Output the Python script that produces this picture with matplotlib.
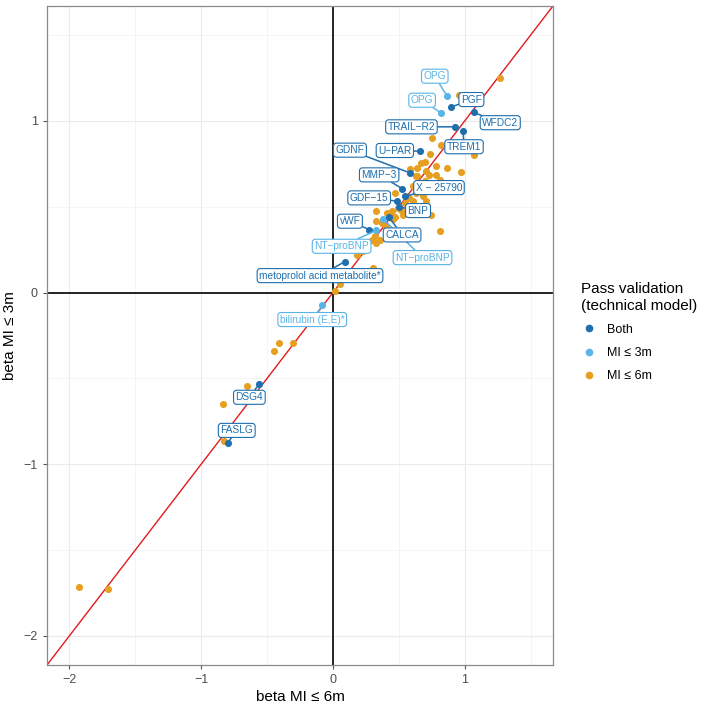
import matplotlib
matplotlib.use("Agg")
import matplotlib.pyplot as plt
from matplotlib.lines import Line2D
from matplotlib.ticker import MultipleLocator

plt.rcParams["font.family"] = ["Liberation Sans", "DejaVu Sans"]

# colours per validation group
COL_BOTH = "#1F6FAE"
COL_3M = "#5AB4E5"
COL_6M = "#E69F20"

# points passing validation at both horizons (beta 6m, beta 3m)
both_names = ["PGF", "WFDC2", "TRAIL\u2212R2", "TREM1", "U\u2212PAR", "GDNF", "MMP\u22123",
              "X \u2212 25790", "GDF\u221215", "BNP", "CALCA", "vWF",
              "metoprolol acid metabolite*", "DSG4", "FASLG"]
both_x = [0.894, 1.068, 0.927, 0.988, 0.659, 0.583, 0.528, 0.550, 0.488, 0.500, 0.424, 0.276,
          0.089, -0.558, -0.800]
both_y = [1.080, 1.050, 0.966, 0.940, 0.824, 0.698, 0.605, 0.562, 0.533, 0.500, 0.441, 0.367,
          0.180, -0.531, -0.877]

# points passing only at 3 months
m3_names = ["OPG", "OPG", "NT\u2212proBNP", "NT\u2212proBNP", "bilirubin (E,E)*"]
m3_x = [0.866, 0.818, 0.380, 0.330, -0.080]
m3_y = [1.145, 1.048, 0.430, 0.363, -0.075]

# points passing only at 6 months (unlabelled)
m6_x = [1.27, 0.955, 0.755, 0.856, 1.068, 0.818, 0.74, 0.672, 0.697, 0.78, 0.866, 0.64, 0.583,
        0.73, 0.78, 0.975, 0.64, 0.61, 0.684, 0.76, 0.848, 0.47, 0.71, 0.634, 0.697, 0.81,
        0.634, 0.684, 0.608, 0.71, 0.495, 0.445, 0.407, 0.33, 0.533, 0.457, 0.47, 0.369, 0.33,
        0.748, 0.81, 0.318, 0.293, 0.356, 0.33, 0.18, 0.23, 0.305, 0.053, 0.013, 0.55, 0.58,
        0.52, 0.40, 0.42, 0.56, 0.60, -0.30, -0.407, -0.447, -0.649, -0.838, -0.823, -1.93, -1.71]
m6_y = [1.25, 1.149, 0.90, 0.859, 0.80, 0.863, 0.81, 0.756, 0.76, 0.738, 0.727, 0.727, 0.72,
        0.688, 0.688, 0.703, 0.682, 0.62, 0.64, 0.63, 0.62, 0.579, 0.709, 0.679, 0.65, 0.659,
        0.581, 0.562, 0.533, 0.533, 0.494, 0.475, 0.465, 0.475, 0.455, 0.426, 0.44, 0.407,
        0.417, 0.455, 0.358, 0.33, 0.309, 0.309, 0.29, 0.222, 0.241, 0.144, 0.052, 0.012, 0.52,
        0.55, 0.48, 0.38, 0.35, 0.47, 0.50, -0.293, -0.293, -0.342, -0.546, -0.649, -0.866,
        -1.718, -1.728]

# where each label box sits (layout only)
both_label_pos = [(1.051, 1.125), (1.27, 0.99), (0.596, 0.966), (0.995, 0.85), (0.47, 0.828),
                  (0.129, 0.83), (0.351, 0.686), (0.805, 0.612), (0.275, 0.552), (0.646, 0.478),
                  (0.525, 0.336), (0.129, 0.416), (-0.098, 0.099), (-0.634, -0.61),
                  (-0.73, -0.803)]
m3_label_pos = [(0.773, 1.261), (0.677, 1.121), (0.68, 0.204), (0.066, 0.27), (-0.157, -0.157)]

LIM = (-2.17, 1.67)

fig = plt.figure(figsize=(7.08, 7.07), dpi=100)
ax = fig.add_axes([0.0664, 0.0594, 0.7146, 0.9321])
ax.set_xlim(LIM)
ax.set_ylim(LIM)

ax.xaxis.set_major_locator(MultipleLocator(1))
ax.yaxis.set_major_locator(MultipleLocator(1))
ax.xaxis.set_minor_locator(MultipleLocator(0.5))
ax.yaxis.set_minor_locator(MultipleLocator(0.5))
ax.grid(which="major", color="#EBEBEB", lw=0.8)
ax.grid(which="minor", color="#F2F2F2", lw=0.5)
ax.set_axisbelow(True)
ax.tick_params(which="minor", length=0)
ax.tick_params(which="major", length=3, color="#555555", labelsize=9, labelcolor="#4D4D4D")
for s in ax.spines.values():
    s.set_color("#8A8A8A")
    s.set_linewidth(0.9)

ax.axhline(0, color="black", lw=1.2, zorder=1)
ax.axvline(0, color="black", lw=1.2, zorder=1)
ax.plot(LIM, LIM, color="#E41A1C", lw=1.0, zorder=2)

ax.scatter(m6_x, m6_y, s=26, color=COL_6M, zorder=3, linewidths=0)
ax.scatter(m3_x, m3_y, s=26, color=COL_3M, zorder=4, linewidths=0)
ax.scatter(both_x, both_y, s=26, color=COL_BOTH, zorder=5, linewidths=0)


def add_labels(names, xs, ys, positions, color):
    for name, x, y, (tx, ty) in zip(names, xs, ys, positions):
        ax.annotate(name, xy=(x, y), xytext=(tx, ty), textcoords="data",
                    ha="center", va="center", fontsize=7.3, color=color, zorder=6,
                    bbox=dict(boxstyle="round,pad=0.2,rounding_size=0.3", fc="white",
                              ec=color, lw=0.8),
                    arrowprops=dict(arrowstyle="-", color=color, lw=1.1,
                                    shrinkA=0, shrinkB=1.5))


add_labels(m3_names, m3_x, m3_y, m3_label_pos, COL_3M)
add_labels(both_names, both_x, both_y, both_label_pos, COL_BOTH)

ax.set_xlabel("beta MI \u2264 6m", fontsize=11, labelpad=3)
ax.set_ylabel("beta MI \u2264 3m", fontsize=11, labelpad=5)

handles = [Line2D([], [], ls="", marker="o", ms=4.5, color=c) for c in (COL_BOTH, COL_3M, COL_6M)]
leg = fig.legend(handles, ["Both", "MI \u2264 3m", "MI \u2264 6m"],
                 title="Pass validation\n(technical model)", loc="center left",
                 bbox_to_anchor=(0.805, 0.53), frameon=False, fontsize=9,
                 title_fontsize=11, handletextpad=0.9, labelspacing=0.9, handlelength=1.2)
leg._legend_box.align = "left"

fig.savefig("out.png", dpi=100)
